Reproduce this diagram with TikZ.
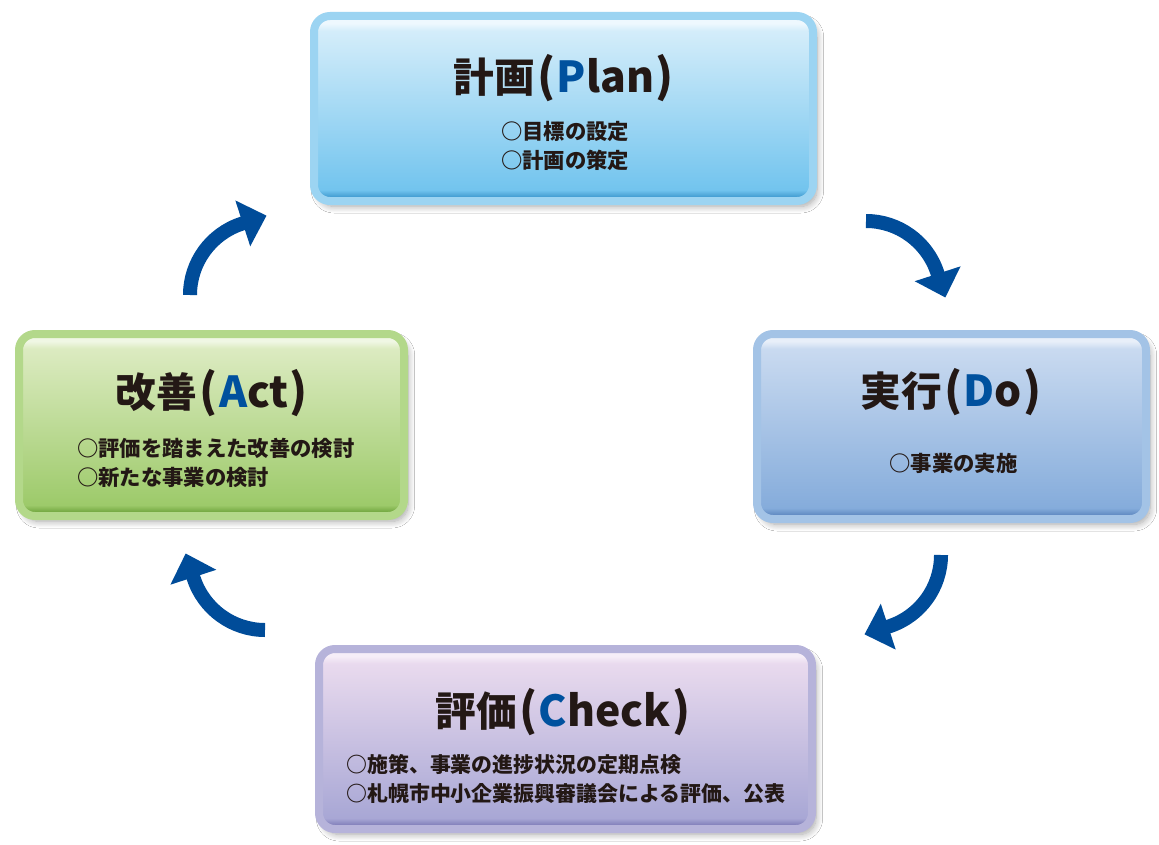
\documentclass[tikz,border=0pt]{standalone}
\usepackage{fontspec}
\newfontfamily\jp{Noto Sans CJK JP}
\usetikzlibrary{arrows.meta,shadows.blur}
\definecolor{ink}{HTML}{231815}
\definecolor{keyblue}{HTML}{00519E}
\definecolor{arrowblue}{HTML}{004C99}
\definecolor{planR}{HTML}{9CD4F2}\definecolor{planT}{HTML}{D4EDFA}\definecolor{planB}{HTML}{72C4EE}\definecolor{planE}{HTML}{3F9AD0}\definecolor{planH}{HTML}{EEF8FE}
\definecolor{doR}{HTML}{A3C3E6}\definecolor{doT}{HTML}{C9DAF0}\definecolor{doB}{HTML}{85ACDB}\definecolor{doE}{HTML}{5E88C0}\definecolor{doH}{HTML}{E8EFF9}
\definecolor{actR}{HTML}{B3D88A}\definecolor{actT}{HTML}{DCEBC1}\definecolor{actB}{HTML}{9DCA6A}\definecolor{actE}{HTML}{6FA53E}\definecolor{actH}{HTML}{F0F7E4}
\definecolor{chkR}{HTML}{B6B3DA}\definecolor{chkT}{HTML}{E9DAEE}\definecolor{chkB}{HTML}{A8A7D5}\definecolor{chkE}{HTML}{7F7DB8}\definecolor{chkH}{HTML}{F6EEF8}
\pgfdeclareverticalshading{planshade}{100bp}{color(0bp)=(planE); color(26bp)=(planE); color(28bp)=(planB); color(71bp)=(planT); color(73bp)=(planH); color(100bp)=(planH)}
\pgfdeclareverticalshading{doshade}{100bp}{color(0bp)=(doE); color(26bp)=(doE); color(28bp)=(doB); color(71bp)=(doT); color(73bp)=(doH); color(100bp)=(doH)}
\pgfdeclareverticalshading{actshade}{100bp}{color(0bp)=(actE); color(26bp)=(actE); color(28bp)=(actB); color(71bp)=(actT); color(73bp)=(actH); color(100bp)=(actH)}
\pgfdeclareverticalshading{chkshade}{100bp}{color(0bp)=(chkE); color(26bp)=(chkE); color(28bp)=(chkB); color(71bp)=(chkT); color(73bp)=(chkH); color(100bp)=(chkH)}
\newcommand\latpart[2]{\kern0.06em{\fontsize{34}{36}\selectfont(}\kern0.03em{\fontsize{32}{36}\selectfont\textcolor{keyblue}{#1}#2}\kern0.03em{\fontsize{34}{36}\selectfont)}}
\begin{document}
\begin{tikzpicture}[x=0.75pt,y=-0.75pt,
  cyclebox/.style={rectangle, rounded corners=12pt, line width=6pt, inner sep=0pt, outer sep=0pt,
    blur shadow={shadow xshift=3pt, shadow yshift=-4pt, shadow blur steps=10, shadow opacity=35, shadow blur radius=5pt}},
  boxtitle/.style={inner sep=0pt, text=ink, font=\jp\bfseries\fontsize{30.5}{36}\selectfont},
  boxsub/.style={inner sep=0pt, text=ink, font=\jp\bfseries\fontsize{16}{22}\selectfont},
  cyclearrow/.style={draw=arrowblue, line width=10.5pt, -{Triangle[length=18.75pt,width=35pt]}}]
\useasboundingbox[fill=white] (0,0) rectangle (1159,845);
% boxes
\node[cyclebox, draw=planR, shading=planshade, minimum width=374.25pt, minimum height=138.75pt] (plan) at (563.5,108.5) {};
\node[cyclebox, draw=doR, shading=doshade, minimum width=291.75pt, minimum height=138.75pt] (do) at (951.5,426.5) {};
\node[cyclebox, draw=actR, shading=actshade, minimum width=288.75pt, minimum height=136.5pt] (act) at (211.5,425) {};
\node[cyclebox, draw=chkR, shading=chkshade, minimum width=369.75pt, minimum height=135pt] (check) at (565.5,739) {};
% titles
\node[boxtitle] (plan-t) at (563.5,78.5) {計画\latpart{P}{lan}};
\node[boxtitle] (do-t) at (951,392) {実行\latpart{D}{o}};
\node[boxtitle] (act-t) at (212,393) {改善\latpart{A}{ct}};
\node[boxtitle] (check-t) at (563,712) {評価\latpart{C}{heck}};
% sub texts
\node[boxsub, align=center] (plan-s) at (565,146) {○目標の設定\\○計画の策定};
\node[boxsub] (do-s) at (953.5,463) {○事業の実施};
\node[boxsub, align=left, anchor=west] (act-s) at (77,463) {○評価を踏まえた改善の検討\\○新たな事業の検討};
\node[boxsub, align=left, anchor=west, font=\jp\bfseries\fontsize{15.7}{22}\selectfont] (check-s) at (346,779) {○施策、事業の進捗状況の定期点検\\○札幌市中小企業振興審議会による評価、公表};
% arrows
\coordinate (tl) at (190,295);
\coordinate (tr) at (866,221);
\coordinate (br) at (941,555);
\coordinate (bl) at (265,630);
\draw[cyclearrow] (tl) arc[start angle=-180, end angle=-108, radius=75] -- ++(-18:26);
\draw[cyclearrow] (tr) arc[start angle=-90, end angle=-18, radius=75] -- ++(72:26);
\draw[cyclearrow] (br) arc[start angle=0, end angle=72, radius=75] -- ++(162:26);
\draw[cyclearrow] (bl) arc[start angle=90, end angle=162, radius=75] -- ++(252:26);
\end{tikzpicture}
\end{document}
